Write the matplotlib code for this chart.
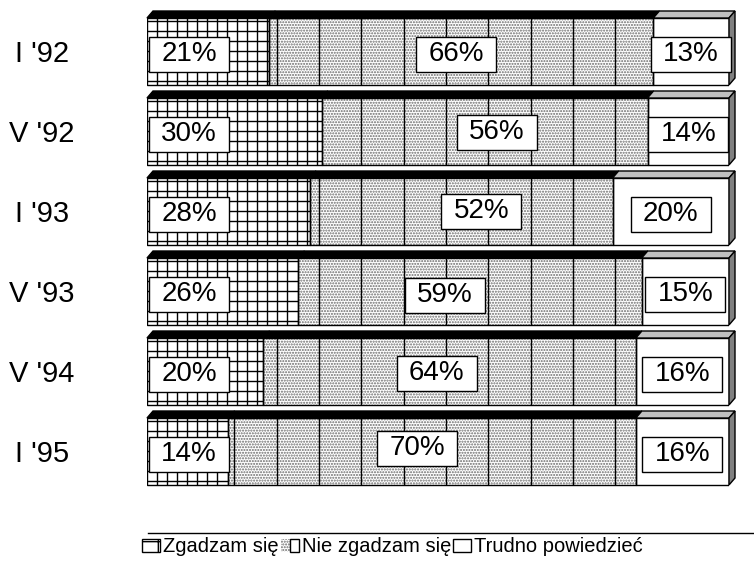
import matplotlib
matplotlib.use("Agg")
import matplotlib.pyplot as plt
import numpy as np
from matplotlib.patches import Polygon, Patch
from matplotlib.lines import Line2D
from matplotlib.path import Path
from matplotlib.legend_handler import HandlerTuple

plt.rcParams['font.family'] = ['Liberation Sans', 'DejaVu Sans']
plt.rcParams['hatch.linewidth'] = 1.0

# dane
okresy = ["I '92", "V '92", "I '93", "V '93", "V '94", "I '95"]
zgadzam = [21, 30, 28, 26, 20, 14]
nie_zgadzam = [66, 56, 52, 59, 64, 70]
trudno = [13, 14, 20, 15, 16, 16]
serie = ["Zgadzam się", "Nie zgadzam się", "Trudno powiedzieć"]

# przesuniecia etykiet srodkowych (px) - reczne jak w oryginale
mid_dx = [-5, 12, 20, -25, -13, -15]
mid_dy = [0, 2, 3, -1, 1, 6]

W, H = 754, 562
fig = plt.figure(figsize=(W / 100, H / 100), dpi=100)
ax = fig.add_axes([147 / W, 1 - 491.5 / H, 582 / W, 480 / H])
ax.set_xlim(0, 100)
ax.set_ylim(5.5, -0.5)

h = 0.8375          # wysokosc slupka
dx = 6 / 5.82       # glebokosc 3D w poziomie
dy = 7 / 80         # glebokosc 3D w pionie
y = np.arange(len(okresy))

zg = np.array(zgadzam)
nz = np.array(nie_zgadzam)
tr = np.array(trudno)
kropki = '#6a6a6a'

# przednie sciany
ax.barh(y, zg, height=h, color='white', edgecolor='black', lw=1, zorder=3)
ax.barh(y, nz, left=zg, height=h, color='white', edgecolor=kropki, hatch='......', lw=0, zorder=2)
ax.barh(y, nz, left=zg, height=h, fill=False, edgecolor='black', lw=1, zorder=3)
ax.barh(y, tr, left=zg + nz, height=h, color='white', edgecolor='black', lw=1, zorder=2)

# kratka w pierwszym segmencie i pionowe linie w srodkowym
wzor = 29.55 + 7.27 * np.arange(-4, 10)
for i in range(len(y)):
    top, bot = y[i] - h / 2, y[i] + h / 2
    kx = np.arange(1.72, zg[i] - 0.3, 1.72)
    ax.vlines(kx, top, bot, color='black', lw=1, zorder=3)
    ky = np.arange(top + 0.04, bot, 0.125)
    ax.hlines(ky, 0, zg[i], color='black', lw=1, zorder=3)
    a, b = zg[i], zg[i] + nz[i]
    xs = wzor[(wzor > a + 0.3) & (wzor < b - 0.3)]
    ax.vlines(xs, top, bot, color='black', lw=1, zorder=3)

# gorne sciany i bok
for i in range(len(y)):
    top = y[i] - h / 2
    lefts = [0, zg[i], zg[i] + nz[i]]
    widths = [zg[i], nz[i], tr[i]]
    kolory = ['black', 'black', '#c0c0c0']
    for l, w, c in zip(lefts, widths, kolory):
        p = Polygon([(l, top), (l + w, top), (l + w + dx, top - dy), (l + dx, top - dy)],
                    closed=True, fc=c, ec='black', lw=1, clip_on=False, zorder=4)
        ax.add_patch(p)
    side = Polygon([(100, top), (100 + dx, top - dy), (100 + dx, y[i] + h / 2 - dy), (100, y[i] + h / 2)],
                   closed=True, fc='#808080', ec='black', lw=1, clip_on=False, zorder=4)
    ax.add_patch(side)


def ramka(x0, y0, width, height, mutation_size):
    px, py = 0.44 * mutation_size, 0.16 * mutation_size
    x0, y0 = x0 - px, y0 - py
    x1, y1 = x0 + width + 2 * px, y0 + height + 2 * py
    return Path([(x0, y0), (x1, y0), (x1, y1), (x0, y1), (x0, y0)], closed=True)


# etykiety procentowe
box = dict(boxstyle=ramka, fc='white', ec='black', lw=1)
fs = 20
for i in range(len(y)):
    ax.annotate(f"{zg[i]}%", (0, y[i]), xytext=(42 * 0.72, -2), textcoords='offset points',
                ha='center', va='center', fontsize=fs, bbox=box, zorder=6)
    ax.annotate(f"{nz[i]}%", (zg[i] + nz[i] / 2, y[i]),
                xytext=(mid_dx[i] * 0.72, mid_dy[i] * 0.72 - 2), textcoords='offset points',
                ha='center', va='center', fontsize=fs, bbox=box, zorder=6)
    ax.annotate(f"{tr[i]}%", (zg[i] + nz[i] + tr[i] / 2, y[i]), xytext=(0, -2), textcoords='offset points',
                ha='center', va='center', fontsize=fs, bbox=box, zorder=6)

ax.set_yticks(y)
ax.set_yticklabels(okresy, ha='center', fontsize=21)
ax.tick_params(axis='y', length=0, pad=105 * 0.72)
ax.set_xticks([])
for s in ax.spines.values():
    s.set_visible(False)

# legenda
uchwyty = [
    Patch(fc='white', ec='black', hatch='+', lw=1),
    (Patch(fc='white', ec=kropki, hatch='......', lw=0), Patch(fill=False, ec='black', lw=1)),
    Patch(fc='white', ec='black', lw=1),
]
fig.legend(uchwyty, serie, loc='center left', bbox_to_anchor=(142 / W, 1 - 547 / H), ncol=3,
           frameon=False, borderpad=0, borderaxespad=0, handlelength=0.9, handleheight=0.6,
           handletextpad=0.15, columnspacing=0.1, fontsize=14.5,
           handler_map={tuple: HandlerTuple(ndivide=None, pad=0)})
fig.add_artist(Line2D([148 / W, 1], [1 - 533 / H] * 2, transform=fig.transFigure, color='black', lw=1))

fig.savefig("out.png", dpi=100)
